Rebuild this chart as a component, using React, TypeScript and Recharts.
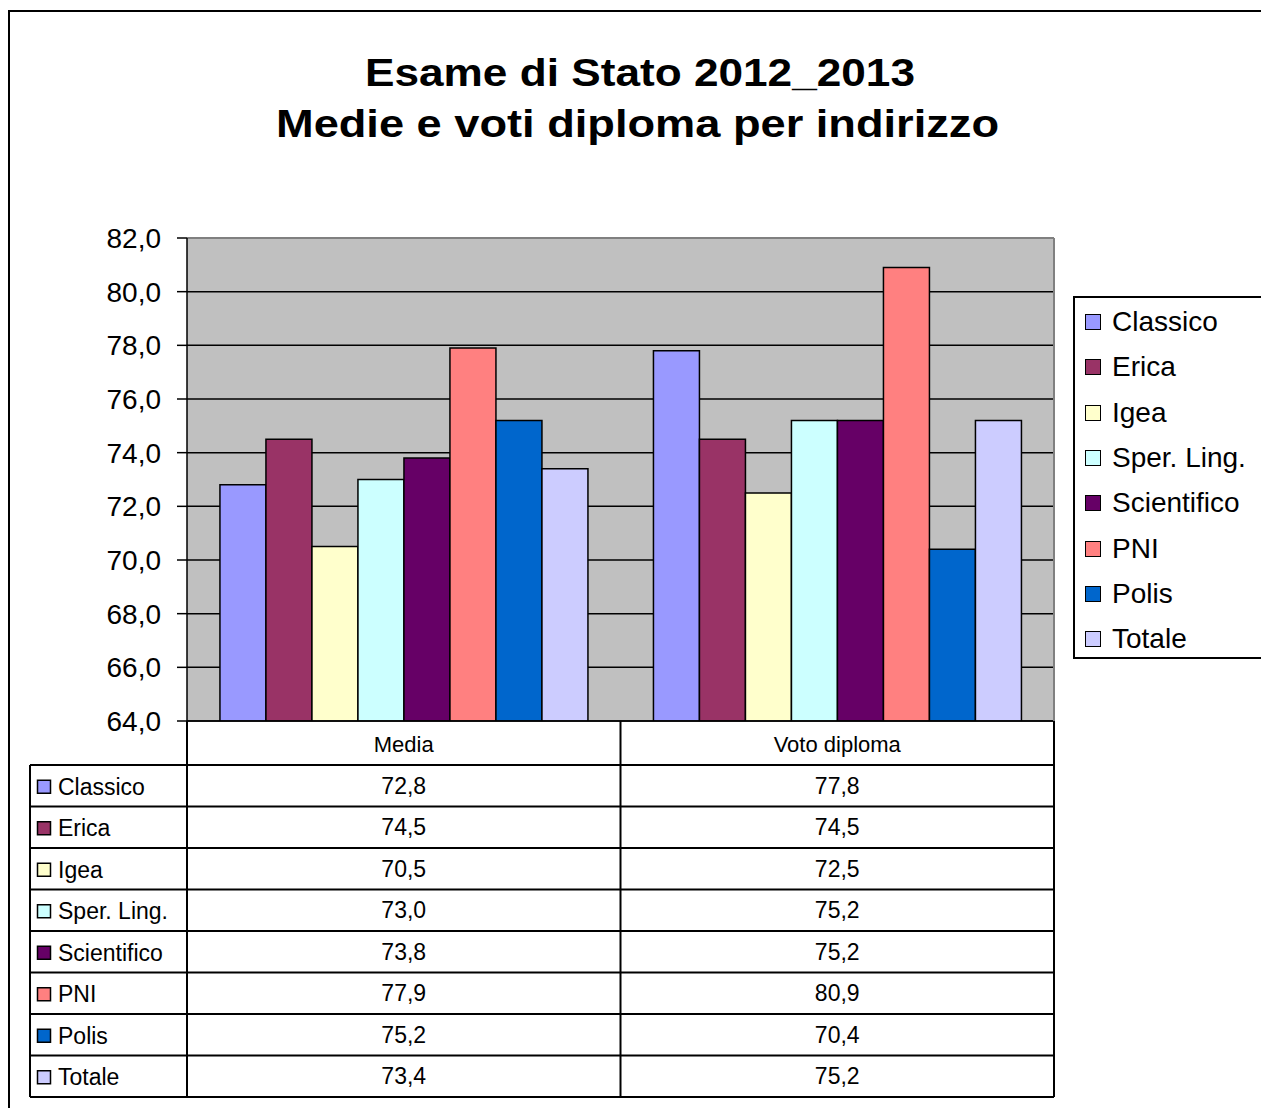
import React from "react";
import { BarChart, Bar, XAxis, YAxis, CartesianGrid, ReferenceLine } from "recharts";

const categories = ["Media", "Voto diploma"];
const seriesNames = ["Classico", "Erica", "Igea", "Sper. Ling.", "Scientifico", "PNI", "Polis", "Totale"];
const seriesColors = ["#9999FF", "#993366", "#FFFFCC", "#CCFFFF", "#660066", "#FF8080", "#0066CC", "#CCCCFF"];
const mediaValues = [72.8, 74.5, 70.5, 73.0, 73.8, 77.9, 75.2, 73.4];
const votoValues = [77.8, 74.5, 72.5, 75.2, 75.2, 80.9, 70.4, 75.2];
const yTicks = [64, 66, 68, 70, 72, 74, 76, 78, 80, 82];
const titleLines = ["Esame di Stato 2012_2013", "Medie e voti diploma per indirizzo"];

const valuesByCategory = [mediaValues, votoValues];

const data = categories.map((cat, ci) => {
  const row: Record<string, any> = { cat };
  seriesNames.forEach((_, si) => {
    row["s" + si] = valuesByCategory[ci][si];
  });
  return row;
});

const FONT = "'Liberation Sans', Arial, Helvetica, sans-serif";
const W = 1261;
const H = 1108;
const PLOT_L = 187;
const PLOT_R = 1054;
const PLOT_T = 238;
const PLOT_B = 721;
const HEADER_H = 44;
const TABLE_L = 30;
const ROW_H = 41.5;
const TABLE_TOP = PLOT_B + HEADER_H;
const Y_AXIS_W = 100;

const fmt = (v: number) => v.toFixed(1).replace(".", ",");

const CatTick = (props: any) => {
  const { x, payload } = props;
  return (
    <text
      x={x}
      y={PLOT_B + HEADER_H / 2 + 1}
      textAnchor="middle"
      dominantBaseline="central"
      fontSize={22}
      fontFamily={FONT}
      fill="#000"
    >
      {payload.value}
    </text>
  );
};

export default function App() {
  const bandW = (PLOT_R - PLOT_L) / categories.length;
  const tableBottom = TABLE_TOP + ROW_H * seriesNames.length;
  return (
    <div style={{ position: "absolute", left: 0, top: 0, width: W, height: H, overflow: "hidden", background: "#fff" }}>
      <div
        style={{
          position: "absolute",
          left: 8,
          top: 10,
          width: 1400,
          height: 1300,
          border: "2px solid #000",
          boxSizing: "border-box",
        }}
      />
      <div style={{ position: "absolute", left: 0, top: 0 }}>
        <BarChart
          width={W}
          height={H}
          data={data}
          margin={{ top: PLOT_T, right: W - PLOT_R, bottom: H - PLOT_B - HEADER_H, left: PLOT_L - Y_AXIS_W }}
          barCategoryGap="7.6%"
          barGap={0}
        >
          <CartesianGrid
            vertical={false}
            horizontal={true}
            stroke="#000"
            strokeWidth={1.5}
            fill="#C0C0C0"
            fillOpacity={1}
          />
          <ReferenceLine y={82} stroke="#808080" strokeWidth={2} />
          <XAxis
            dataKey="cat"
            height={HEADER_H}
            tickLine={false}
            axisLine={{ stroke: "#000", strokeWidth: 1.5 }}
            tick={<CatTick />}
            interval={0}
          />
          <YAxis
            width={Y_AXIS_W}
            domain={[64, 82]}
            ticks={yTicks}
            interval={0}
            allowDataOverflow
            tickFormatter={fmt}
            tickSize={10}
            tickMargin={16}
            tickLine={{ stroke: "#000", strokeWidth: 1.5 }}
            axisLine={{ stroke: "#000", strokeWidth: 1.5 }}
            tick={{ fontSize: 28, fontFamily: FONT, fill: "#000" }}
          />
          {seriesNames.map((name, si) => (
            <Bar
              key={name}
              dataKey={"s" + si}
              name={name}
              fill={seriesColors[si]}
              stroke="#000"
              strokeWidth={1.5}
              isAnimationActive={false}
            />
          ))}
        </BarChart>
      </div>
      <svg
        width={W}
        height={H}
        style={{ position: "absolute", left: 0, top: 0, pointerEvents: "none" }}
      >
        <text
          x={640}
          y={86}
          textAnchor="middle"
          fontSize={38}
          fontWeight="bold"
          fontFamily={FONT}
          textLength={550}
          lengthAdjust="spacingAndGlyphs"
        >
          {titleLines[0]}
        </text>
        <text
          x={637.5}
          y={137}
          textAnchor="middle"
          fontSize={38}
          fontWeight="bold"
          fontFamily={FONT}
          textLength={723}
          lengthAdjust="spacingAndGlyphs"
        >
          {titleLines[1]}
        </text>
        {/* plot top/right border */}
        <line x1={PLOT_R} y1={PLOT_T} x2={PLOT_R} y2={PLOT_B} stroke="#808080" strokeWidth={2} />
        {/* table verticals */}
        {categories.map((_, ci) => (
          <line
            key={"v" + ci}
            x1={PLOT_L + ci * bandW}
            y1={PLOT_B}
            x2={PLOT_L + ci * bandW}
            y2={tableBottom}
            stroke="#000"
            strokeWidth={2}
          />
        ))}
        <line x1={PLOT_R} y1={PLOT_B} x2={PLOT_R} y2={tableBottom} stroke="#000" strokeWidth={2} />
        <line x1={TABLE_L} y1={TABLE_TOP} x2={TABLE_L} y2={tableBottom} stroke="#000" strokeWidth={2} />
        {seriesNames.map((_, k) => (
          <line
            key={"h" + k}
            x1={TABLE_L}
            y1={TABLE_TOP + k * ROW_H}
            x2={PLOT_R}
            y2={TABLE_TOP + k * ROW_H}
            stroke="#000"
            strokeWidth={2}
          />
        ))}
        <line x1={TABLE_L} y1={tableBottom} x2={PLOT_R} y2={tableBottom} stroke="#000" strokeWidth={2} />
        {seriesNames.map((name, si) => {
          const cy = TABLE_TOP + si * ROW_H + ROW_H / 2 + 1;
          return (
            <g key={"r" + si}>
              <rect x={37.5} y={cy - 6.5} width={13} height={13} fill={seriesColors[si]} stroke="#000" strokeWidth={1.5} />
              <text x={58} y={cy} dominantBaseline="central" fontSize={23} fontFamily={FONT} fill="#000">
                {name}
              </text>
              {categories.map((_, ci) => (
                <text
                  key={ci}
                  x={PLOT_L + ci * bandW + bandW / 2}
                  y={cy - 1}
                  textAnchor="middle"
                  dominantBaseline="central"
                  fontSize={23}
                  fontFamily={FONT}
                  fill="#000"
                >
                  {fmt(valuesByCategory[ci][si])}
                </text>
              ))}
            </g>
          );
        })}
      </svg>
      <div
        style={{
          position: "absolute",
          left: 1073,
          top: 296,
          width: 300,
          height: 363,
          border: "2px solid #000",
          boxSizing: "border-box",
          background: "#fff",
        }}
      >
        {seriesNames.map((name, si) => (
          <div
            key={name}
            style={{
              position: "absolute",
              left: 10,
              top: 322 - 298 + si * 45.3 - 15,
              height: 30,
              display: "flex",
              alignItems: "center",
              whiteSpace: "nowrap",
            }}
          >
            <div
              style={{
                width: 16,
                height: 16,
                background: seriesColors[si],
                border: "1.5px solid #000",
                boxSizing: "border-box",
                marginRight: 11,
              }}
            />
            <span style={{ fontFamily: FONT, fontSize: 28, color: "#000", lineHeight: "30px" }}>{name}</span>
          </div>
        ))}
      </div>
    </div>
  );
}
